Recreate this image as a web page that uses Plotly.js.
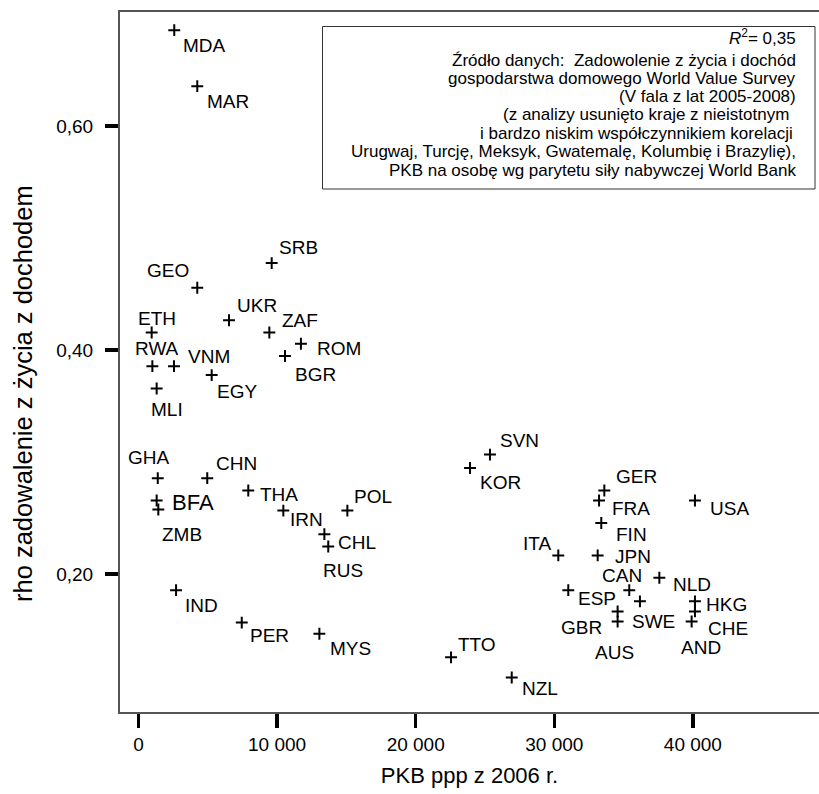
<!DOCTYPE html>
<html>
<head>
<meta charset="utf-8">
<script src="https://cdn.plot.ly/plotly-3.0.1.min.js"></script>
<style>html,body{margin:0;padding:0;background:#fff;}#chart{width:819px;height:794px;}</style>
</head>
<body>
<div id="chart"></div>
<script>
// ---- data ----
const countries = ['MDA','MAR','SRB','GEO','UKR','ETH','ZAF','ROM','BGR','RWA','VNM','EGY','MLI',
  'GHA','CHN','BFA','ZMB','THA','IRN','POL','RUS','CHL','IND','PER','MYS',
  'SVN','KOR','GER','FRA','USA','FIN','ITA','JPN','NLD','CAN','ESP','SWE','GBR','AUS','HKG','CHE','AND','TTO','NZL'];
const gdpPpp = [2580,4240,9610,4240,6530,950,9440,11720,10570,1000,2560,5280,1310,
  1390,4960,1310,1430,7920,10450,15070,13410,13690,2710,7450,13050,
  25360,23920,33610,33230,40150,33390,30290,33130,37580,35410,31010,36180,34570,34570,40150,40150,39910,22550,26930];
const rho = [0.686,0.636,0.478,0.456,0.427,0.416,0.416,0.406,0.395,0.386,0.386,0.378,0.366,
  0.286,0.286,0.266,0.258,0.275,0.257,0.257,0.236,0.225,0.186,0.157,0.147,
  0.307,0.295,0.275,0.266,0.266,0.246,0.217,0.217,0.197,0.186,0.186,0.176,0.167,0.158,0.176,0.167,0.158,0.126,0.108];
const xTickVals = [0, 10000, 20000, 30000, 40000];
const xTickText = ['0', '10 000', '20 000', '30 000', '40 000'];
const yTickVals = [0.2, 0.4, 0.6];
const yTickText = ['0,20', '0,40', '0,60'];
const xTitle = 'PKB ppp z 2006 r.';
const yTitle = 'rho zadowalenie z życia z dochodem';
const noteLines = [
  '<i>R</i><sup>2</sup>= 0,35',
  'Źródło danych:  Zadowolenie z życia i dochód',
  'gospodarstwa domowego World Value Survey',
  '(V fala z lat 2005-2008)',
  '(z analizy usunięto kraje z nieistotnym',
  'i bardzo niskim współczynnikiem korelacji',
  'Urugwaj, Turcję, Meksyk, Gwatemalę, Kolumbię i Brazylię),',
  'PKB na osobę wg parytetu siły nabywczej World Bank'
];

// ---- label placement (pixel offsets of label centre from point) ----
const labelDx = [30.7,31,27.3,-29,27.7,5,30.7,38.3,30,4.4,35.3,25,10,
  -8.4,29.4,36.6,23.4,31,23.4,26,19,28.4,25.7,27.6,30.7,
  29.3,30,31.7,31.7,35,30.4,-21.6,35,32.4,-7.6,28.4,13.3,-36,-2.7,31.7,33.3,9,26.3,28];
const labelDy = [16,16,-15,-16.6,-13.3,-13.4,-11,5.7,19,-17,-8.7,17.6,21.7,
  -20,-13.3,3.3,26,5,10,-12.7,37.7,-3.3,16.7,14,16,
  -13.3,15,-12.7,9.3,9.3,12.3,-11,2.3,7.4,-13.3,9.3,21.6,16.6,31.6,4.3,17.6,26.6,-12,12];

const FONT = 'Liberation Sans, Arial, sans-serif';
const W = 819, H = 794, ML = 120, MR = 0, MT = 12, MB = 82;
const PW = W - ML - MR, PH = H - MT - MB;
const px2paperX = p => (p - ML) / PW;
const px2paperY = p => (H - MB - p) / PH;

const annotations = countries.map((c, i) => ({
  x: gdpPpp[i], y: rho[i], xref: 'x', yref: 'y', text: c, showarrow: false,
  xanchor: 'center', yanchor: 'middle', xshift: labelDx[i], yshift: -labelDy[i] + 1,
  font: {family: FONT, size: c === 'BFA' ? 22 : 19, color: '#000'}
}));

const lineCentres = [37, 60, 78.3, 96.7, 115, 133.3, 151.7, 170];
const lineShift = [0, 0, 0, 0, -7, -3, 0, 0];
noteLines.forEach((t, i) => annotations.push({
  x: px2paperX(798), y: px2paperY(lineCentres[i]), xref: 'paper', yref: 'paper',
  text: t, showarrow: false, xanchor: 'right', yanchor: 'middle', xshift: lineShift[i],
  font: {family: FONT, size: 17, color: '#000'}
}));

// y-axis title (placed as rotated annotation)
annotations.push({
  x: px2paperX(23), y: px2paperY(394), xref: 'paper', yref: 'paper',
  text: yTitle, showarrow: false, textangle: -90, xanchor: 'center', yanchor: 'middle',
  font: {family: FONT, size: 25.5, color: '#000'}
});

const shapes = [{
  type: 'rect', xref: 'paper', yref: 'paper',
  x0: px2paperX(322.5), x1: px2paperX(815), y0: px2paperY(189), y1: px2paperY(26.5),
  line: {color: '#333', width: 1}, fillcolor: 'rgba(0,0,0,0)'
}];

const trace = {
  type: 'scatter', mode: 'markers', x: gdpPpp, y: rho, text: countries,
  marker: {symbol: 'cross-thin', size: 8.5, color: '#000', line: {color: '#000', width: 2}},
  hoverinfo: 'text'
};

const layout = {
  width: W, height: H,
  margin: {l: ML, r: MR, t: MT, b: MB, pad: 0},
  paper_bgcolor: '#fff', plot_bgcolor: '#fff',
  showlegend: false,
  font: {family: FONT, color: '#000'},
  xaxis: {
    range: [-1335, 49100], showgrid: false, zeroline: false,
    showline: true, mirror: true, linecolor: '#555', linewidth: 2,
    ticks: 'outside', ticklen: 14, tickwidth: 3.5, tickcolor: '#000',
    tickvals: xTickVals, ticktext: xTickText,
    tickfont: {family: FONT, size: 19, color: '#000'},
    title: {text: xTitle, font: {family: FONT, size: 22, color: '#000'}, standoff: 14}
  },
  yaxis: {
    range: [0.0772, 0.7022], showgrid: false, zeroline: false,
    showline: true, mirror: false, linecolor: '#555', linewidth: 2,
    ticks: 'outside', ticklen: 13, tickwidth: 4, tickcolor: '#000',
    tickvals: yTickVals, ticktext: yTickText,
    tickfont: {family: FONT, size: 19, color: '#000'},
    ticklabelstandoff: 8
  },
  annotations: annotations,
  shapes: shapes
};

Plotly.newPlot('chart', [trace], layout, {staticPlot: true, displayModeBar: false});
</script>
</body>
</html>
